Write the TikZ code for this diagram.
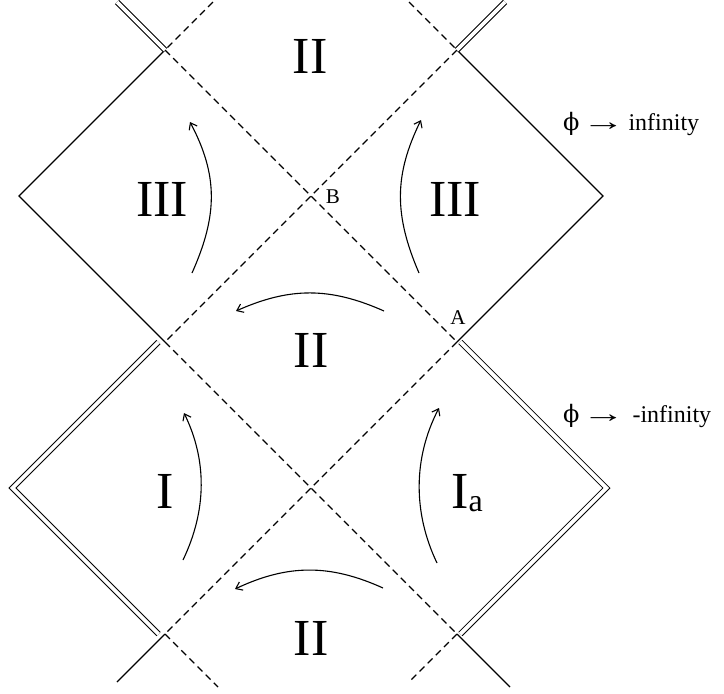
\documentclass[tikz,border=0pt]{standalone}
\usepackage{fontspec}
\usepackage{graphicx}
\setmainfont{Liberation Serif}
\newfontfamily\grkfont{DejaVu Serif}
\usetikzlibrary{arrows.meta}
\begin{document}
\begin{tikzpicture}[x=1pt,y=-1pt,
  solidline/.style={line width=1.1pt},
  dashline/.style={line width=1.1pt, dash pattern=on 7pt off 4.5pt},
  dblline/.style={line width=1pt, double, double distance=3.8pt},
  flow/.style={line width=1.1pt, -{Straight Barb[length=6pt,width=9pt]}},
  region/.style={font=\fontsize{52}{52}\selectfont, inner sep=0pt},
  ptlabel/.style={font=\fontsize{21}{21}\selectfont, inner sep=0pt},
  note/.style={font=\fontsize{24}{24}\selectfont, inner sep=0pt, anchor=base west}]
\useasboundingbox (0,0) rectangle (724,694);
% grid points
\coordinate (TL) at (165,50);
\coordinate (TR) at (457,50);
\coordinate (ML) at (165,342);
\coordinate (MR) at (457,342);
\coordinate (BL) at (165,634);
\coordinate (BR) at (457,634);
\coordinate (UL) at (19,196);
\coordinate (UR) at (603,196);
% free ends
\coordinate (topdl) at (117,2);
\coordinate (topdr) at (505,2);
\coordinate (topsl) at (213,2);
\coordinate (topsr) at (409,2);
\coordinate (botsl) at (117,682);
\coordinate (botsr) at (510,687);
\coordinate (botdl) at (218,687);
\coordinate (botdr) at (410,681);
% solid boundaries
\draw[solidline] (TL) -- (UL) -- (ML);
\draw[solidline] (TR) -- (UR) -- (MR);
\draw[solidline] (BL) -- (botsl);
\draw[solidline] (BR) -- (botsr);
% dashed horizons
\draw[dashline] (topsl) -- (TL);
\draw[dashline] (topsr) -- (TR);
\draw[dashline] (TL) -- (MR);
\draw[dashline] (TR) -- (ML);
\draw[dashline] (ML) -- (BR);
\draw[dashline] (MR) -- (BL);
\draw[dashline] (BL) -- (botdl);
\draw[dashline] (BR) -- (botdr);
% double lines (singularities)
\draw[dblline] (topdl) -- (TL);
\draw[dblline] (topdr) -- (TR);
\draw[dblline] (158.5,342) -- (12.5,488) -- (158.5,634);
\draw[dblline] (460.4,342) -- (606.4,488) -- (460.4,634);
% flow arrows
\draw[flow] (192,273) .. controls (218,215) and (218,175) .. (190,122);
\draw[flow] (419,273) .. controls (394,215) and (394,175) .. (421,120);
\draw[flow] (384,311) .. controls (330,287) and (290,287) .. (236,311);
\draw[flow] (183,560) .. controls (207,510) and (207,460) .. (184,413);
\draw[flow] (437,563) .. controls (413,513) and (413,458) .. (439,408);
\draw[flow] (383,588) .. controls (330,564) and (288,564) .. (235,589);
% region labels
\node[region] (r2top) at (310,56) {II};
\node[region] (r3l) at (162,199) {III};
\node[region] (r3r) at (455,199) {III};
\node[region] (r2mid) at (311,350) {II};
\node[region] (r1) at (165,491) {I};
\node[region] (r1a) at (467,493) {I\raisebox{-3pt}{\fontsize{32}{32}\selectfont a}};
\node[region] (r2bot) at (311,638) {II};
% point labels
\node[ptlabel] (lblB) at (333,197) {B};
\node[ptlabel] (lblA) at (458,318) {A};
% notes
\node[note] (n1) at (563,130) {{\grkfont ϕ}\hspace{7pt}\makebox[34pt][c]{\scalebox{1.8}[1.1]{→}}\hspace{8pt}infinity};
\node[note] (n2) at (563,422) {{\grkfont ϕ}\hspace{7pt}\makebox[34pt][c]{\scalebox{1.8}[1.1]{→}}\hspace{12pt}-infinity};
\end{tikzpicture}
\end{document}
